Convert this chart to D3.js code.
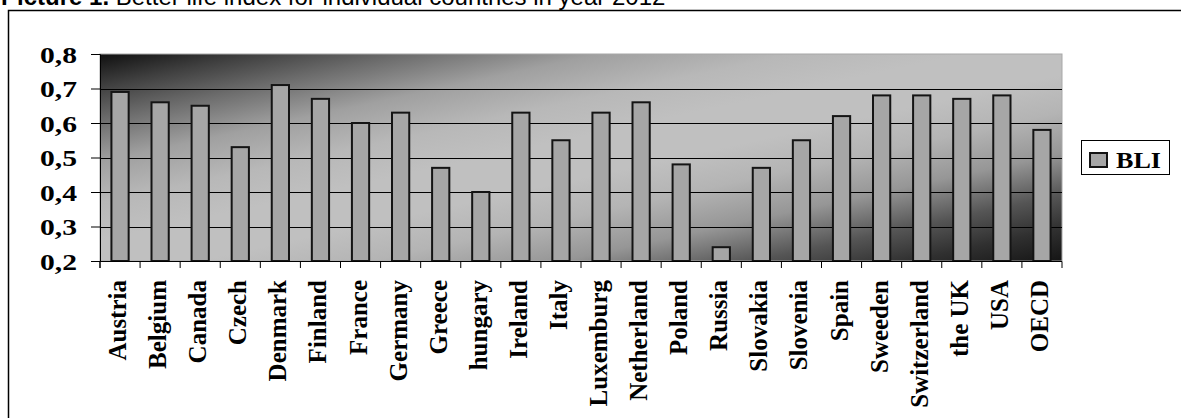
<!DOCTYPE html>
<html>
<head>
<meta charset="utf-8">
<script src="https://cdn.jsdelivr.net/npm/d3@7/dist/d3.min.js"></script>
<style>
  html, body { margin: 0; padding: 0; background: #fff; }
  svg { display: block; }
</style>
</head>
<body>
<svg id="chart" width="1181" height="418"></svg>
<script>
const categories = ["Austria","Belgium","Canada","Czech","Denmark","Finland","France","Germany","Greece","hungary","Ireland","Italy","Luxemburg","Netherland","Poland","Russia","Slovakia","Slovenia","Spain","Sweeden","Switzerland","the UK","USA","OECD"];
const bliValues = [0.69,0.66,0.65,0.53,0.71,0.67,0.60,0.63,0.47,0.40,0.63,0.55,0.63,0.66,0.48,0.24,0.47,0.55,0.62,0.68,0.68,0.67,0.68,0.58];
const yTicks = [0.2,0.3,0.4,0.5,0.6,0.7,0.8];
const yTickLabels = ["0,2","0,3","0,4","0,5","0,6","0,7","0,8"];
const seriesName = "BLI";
const titleBold = "Picture 1.";
const titleRest = " Better life index for individual countries in year 2012";

const svg = d3.select("#chart");
const W = 1181, H = 418;
const plot = {left: 100, right: 1062, top: 54, bottom: 261};

// Gradient background
const defs = svg.append("defs");
const grad = defs.append("linearGradient").attr("id","bg")
  .attr("x1",0).attr("y1",0).attr("x2",1).attr("y2",1);
[[0,"#101010"],[0.08,"#404040"],[0.16,"#6c6c6c"],[0.26,"#a0a0a0"],[0.36,"#b8b8b8"],[0.45,"#c0c0c0"],
 [0.55,"#c0c0c0"],[0.64,"#b4b4b4"],[0.74,"#969696"],[0.84,"#555555"],[0.92,"#303030"],[1,"#151515"]]
 .forEach(([o,c]) => grad.append("stop").attr("offset",o).attr("stop-color",c));

// Title
const title = svg.append("text").attr("x",1).attr("y",5)
  .attr("font-family","'Liberation Sans', Arial, sans-serif").attr("font-size",24).attr("fill","#000");
title.append("tspan").attr("font-weight","bold").text(titleBold);
title.append("tspan").text(titleRest);

// Outer frame (left and top)
svg.append("path").attr("d",`M8.5,${H} L8.5,10.5 L${W},10.5`)
  .attr("fill","none").attr("stroke","#000").attr("stroke-width",1.5);

// Scales
const x = d3.scaleBand().domain(categories).range([plot.left, plot.right]);
const y = d3.scaleLinear().domain([0.2,0.8]).range([plot.bottom, plot.top]);

// Plot area
svg.append("rect").attr("x",plot.left).attr("y",plot.top)
  .attr("width",plot.right-plot.left).attr("height",plot.bottom-plot.top)
  .attr("fill","url(#bg)").attr("stroke","#a8a8a8").attr("stroke-width",1);

// Gridlines
svg.append("g").selectAll("line").data(yTicks.filter(d => d>0.2 && d<0.8)).join("line")
  .attr("x1",plot.left).attr("x2",plot.right)
  .attr("y1",d => Math.round(y(d))+0.5).attr("y2",d => Math.round(y(d))+0.5)
  .attr("stroke","#000").attr("stroke-width",1);

// Bars
const bw = x.bandwidth()*0.43;
svg.append("g").selectAll("rect").data(categories).join("rect")
  .attr("x",(d,i) => x(d) + x.bandwidth()/2 - bw/2)
  .attr("y",(d,i) => y(bliValues[i]))
  .attr("width",bw)
  .attr("height",(d,i) => y(0.2) - y(bliValues[i]))
  .attr("fill","#a6a6a6").attr("stroke","#141414").attr("stroke-width",2);

// Y axis
const yAxis = d3.axisLeft(y).tickValues(yTicks).tickSize(9).tickFormat((d,i) => yTickLabels[i]);
const gy = svg.append("g").attr("transform",`translate(${plot.left},0)`).call(yAxis);
gy.select(".domain").attr("stroke","#000");
gy.selectAll(".tick line").attr("stroke","#000");
gy.selectAll(".tick text")
  .attr("x",-23).attr("dy","0.36em")
  .attr("font-family","'Liberation Serif','Times New Roman',serif")
  .attr("font-weight","bold").attr("font-size",23).attr("fill","#000")
  .attr("textLength",37).attr("lengthAdjust","spacingAndGlyphs");

// X axis
const xAxis = d3.axisBottom(x).tickSize(7).tickFormat("");
const gx = svg.append("g").attr("transform",`translate(0,${plot.bottom})`).call(xAxis);
gx.select(".domain").attr("stroke","#000").attr("d",`M${plot.left},7V0.5H${plot.right}V7`);
gx.selectAll(".tick line").attr("stroke","#000")
  .attr("transform",`translate(${-x.bandwidth()/2},0)`);
// boundary tick lines already at band edges except last; draw last edge via domain path

// X labels
svg.append("g").selectAll("text").data(categories).join("text")
  .attr("transform",d => `translate(${x(d)+x.bandwidth()/2},280) rotate(-90)`)
  .attr("text-anchor","end").attr("dy","0.24em")
  .attr("font-family","'Liberation Serif','Times New Roman',serif")
  .attr("font-weight","bold").attr("font-size",25).attr("fill","#000")
  .text(d => d);

// Legend
const lg = svg.append("g");
lg.append("rect").attr("x",1081.5).attr("y",140.5).attr("width",88).attr("height",34)
  .attr("fill","#fff").attr("stroke","#000").attr("stroke-width",1);
lg.append("rect").attr("x",1090).attr("y",153).attr("width",17).attr("height",14)
  .attr("fill","#a6a6a6").attr("stroke","#141414").attr("stroke-width",2);
lg.append("text").attr("x",1116).attr("y",167.5)
  .attr("font-family","'Liberation Serif','Times New Roman',serif")
  .attr("font-weight","bold").attr("font-size",23).attr("fill","#000")
  .attr("textLength",45).attr("lengthAdjust","spacingAndGlyphs")
  .text(seriesName);
</script>
</body>
</html>
